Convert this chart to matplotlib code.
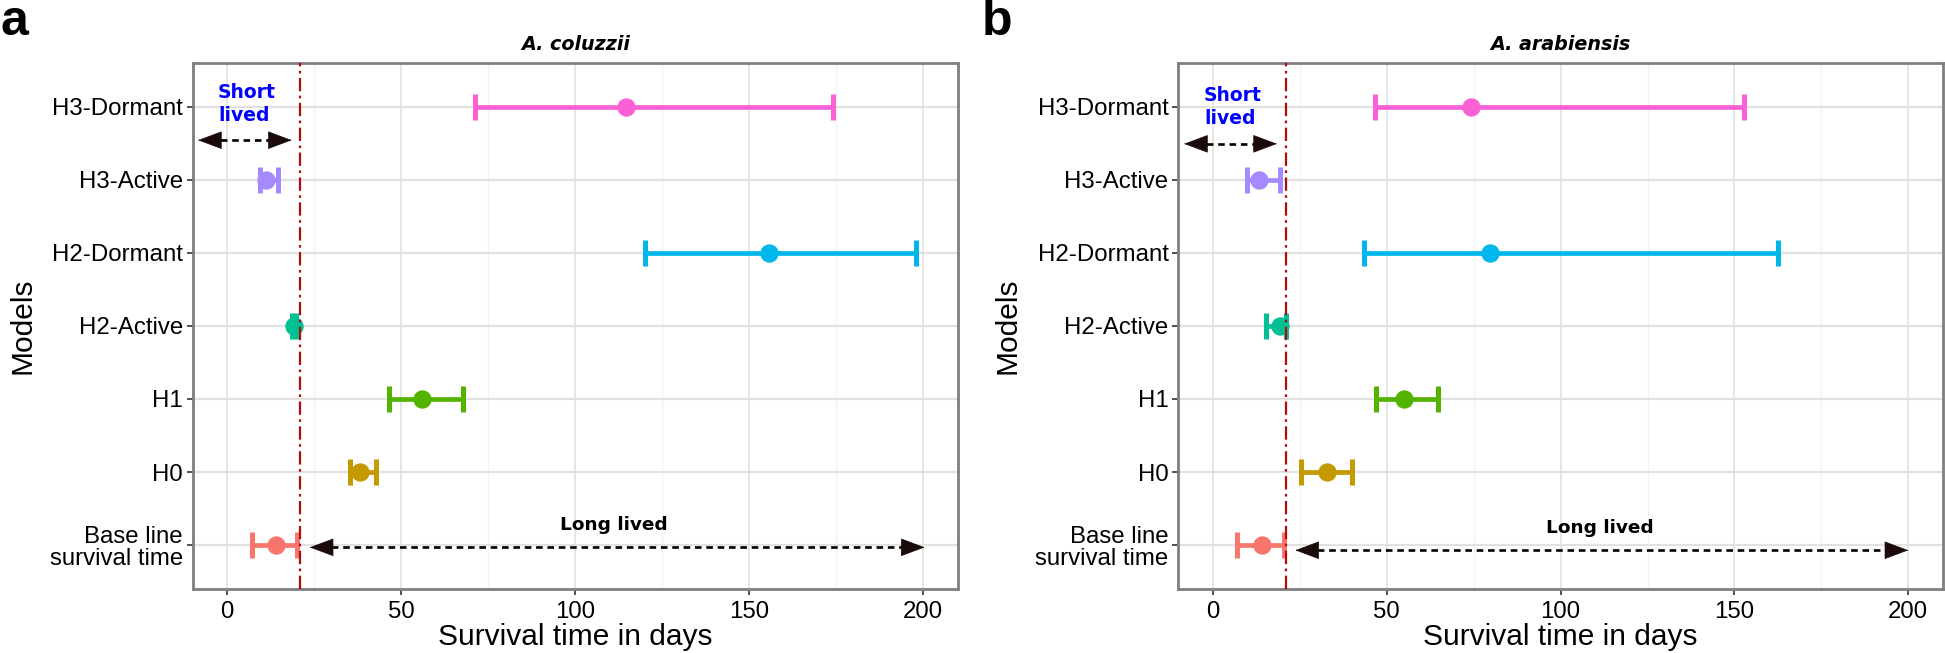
import matplotlib
matplotlib.use("Agg")
import matplotlib.pyplot as plt
from matplotlib.patches import FancyArrowPatch

# ---------------- data ----------------
models = ["Base line\nsurvival time", "H0", "H1", "H2-Active", "H2-Dormant", "H3-Active", "H3-Dormant"]
model_colors = ["#F8766D", "#C49A00", "#53B400", "#00C094", "#00B6EB", "#A58AFF", "#FB61D7"]

coluzzii_est = [13.9, 38.1, 56.1, 19.2, 155.6, 11.0, 114.5]
coluzzii_lo = [7.0, 35.4, 46.5, 18.6, 120.1, 9.3, 71.2]
coluzzii_hi = [19.9, 42.8, 67.8, 19.8, 198.0, 14.7, 174.1]

arabiensis_est = [14.0, 32.7, 55.0, 19.3, 79.7, 13.1, 74.2]
arabiensis_lo = [6.9, 25.3, 46.8, 15.4, 43.5, 9.9, 46.6]
arabiensis_hi = [20.3, 40.1, 64.7, 21.0, 162.6, 19.3, 152.8]

panel_titles = ["A. coluzzii", "A. arabiensis"]
panel_letters = ["a", "b"]
threshold_days = 21
x_ticks = [0, 50, 100, 150, 200]

# annotation values (x start, x end, y position in category units)
short_arrow = [(-8.4, 18.5, 6.54), (-8.3, 18.4, 6.49)]
long_arrow = [(23.7, 200.4, 0.97), (23.7, 200.0, 0.93)]
short_text_pos = [(-2.7, 7.03), (-2.6, 6.99)]
long_text_pos = [(111.2, 1.27), (111.3, 1.24)]

# ---------------- figure ----------------
W, H = 1945, 653
fig = plt.figure(figsize=(W / 100, H / 100), dpi=100)

def fx(px):
    return px / W

def fy(py):
    return 1 - py / H

axes_px = [(192.5, 958.0), (1178.2, 1943.0)]
ylabel_px = [22.5, 1007.0]
top_px, bot_px = 62.7, 589.0

tick_font = "Liberation Sans"
anno_font = "DejaVu Sans"

datasets = [(coluzzii_est, coluzzii_lo, coluzzii_hi),
            (arabiensis_est, arabiensis_lo, arabiensis_hi)]

for i, (est, lo, hi) in enumerate(datasets):
    l, r = axes_px[i]
    ax = fig.add_axes([fx(l), fy(bot_px), fx(r - l), (bot_px - top_px) / H])
    ax.set_xlim(-10, 210)
    ax.set_ylim(0.4, 7.6)
    ypos = list(range(1, len(models) + 1))

    # grid
    for xv in [25, 75, 125, 175]:
        ax.axvline(xv, color="#F2F2F2", lw=0.9, zorder=0)
    for xv in x_ticks:
        ax.axvline(xv, color="#E4E4E4", lw=1.3, zorder=0)
    for yv in ypos:
        ax.axhline(yv, color="#E1E1E1", lw=1.6, zorder=0)

    # error bars + points
    for k in range(len(models)):
        ax.errorbar(est[k], ypos[k], xerr=[[est[k] - lo[k]], [hi[k] - est[k]]],
                    fmt="o", color=model_colors[k], ms=12.2, lw=3.4,
                    capsize=9.4, capthick=3.6, zorder=3)

    # threshold line
    ax.axvline(threshold_days, color="#B00C0C", lw=1.6, dashes=(6, 2, 1.2, 2), zorder=4)

    # arrows
    for (x0, x1, yy) in [short_arrow[i], long_arrow[i]]:
        ax.plot([x0 + 3, x1 - 3], [yy, yy], color="black", lw=1.9, dashes=(2.5, 1.8), zorder=5)
        for tip, back in [(x0, x0 + 0.5), (x1, x1 - 0.5)]:
            ax.add_patch(FancyArrowPatch((back, yy), (tip, yy),
                                         arrowstyle="-|>,head_length=0.8,head_width=0.3",
                                         mutation_scale=20, color="#1a0a0a", lw=0.5,
                                         shrinkA=0, shrinkB=0, zorder=6))

    sx, sy = short_text_pos[i]
    ax.text(sx, sy, "Short\nlived", color="#0000FF", fontsize=13.5, fontweight="bold",
            family=anno_font, ha="left", va="center", linespacing=1.25, zorder=7)
    lx, ly = long_text_pos[i]
    ax.text(lx, ly, "Long lived", color="black", fontsize=13.3, fontweight="bold",
            family=anno_font, ha="center", va="center", zorder=7)

    # axes styling
    ax.set_yticks(ypos)
    ax.set_yticklabels(models, fontsize=17.3, family=tick_font, linespacing=1.0)
    ax.set_xticks(x_ticks)
    ax.set_xticklabels([str(v) for v in x_ticks], fontsize=17.3, family=tick_font)
    ax.tick_params(axis="both", length=4, width=1.2, color="#333333", labelcolor="black")
    ax.tick_params(axis="y", pad=3)
    ax.tick_params(axis="x", pad=5)
    for sp in ax.spines.values():
        sp.set_color("#7F7F7F")
        sp.set_linewidth(2.0)
    ax.set_xlabel("Survival time in days", fontsize=21.5, family=tick_font)
    ax.xaxis.set_label_coords(0.5, -0.064)
    ax.set_ylabel("Models", fontsize=21.5, family=tick_font)
    ax.yaxis.set_label_coords((ylabel_px[i] - l) / (r - l), 0.5)
    ax.yaxis.label.set_va("center")

    ax.set_title(panel_titles[i], fontsize=13.8, fontweight="bold", style="italic",
                 family=anno_font, pad=9)

# panel letters
fig.text(fx(0), fy(35), panel_letters[0], fontsize=36, fontweight="bold", family=tick_font,
         ha="left", va="baseline")
fig.text(fx(982), fy(35), panel_letters[1], fontsize=36, fontweight="bold", family=tick_font,
         ha="left", va="baseline")

fig.savefig("out.png", dpi=100)
